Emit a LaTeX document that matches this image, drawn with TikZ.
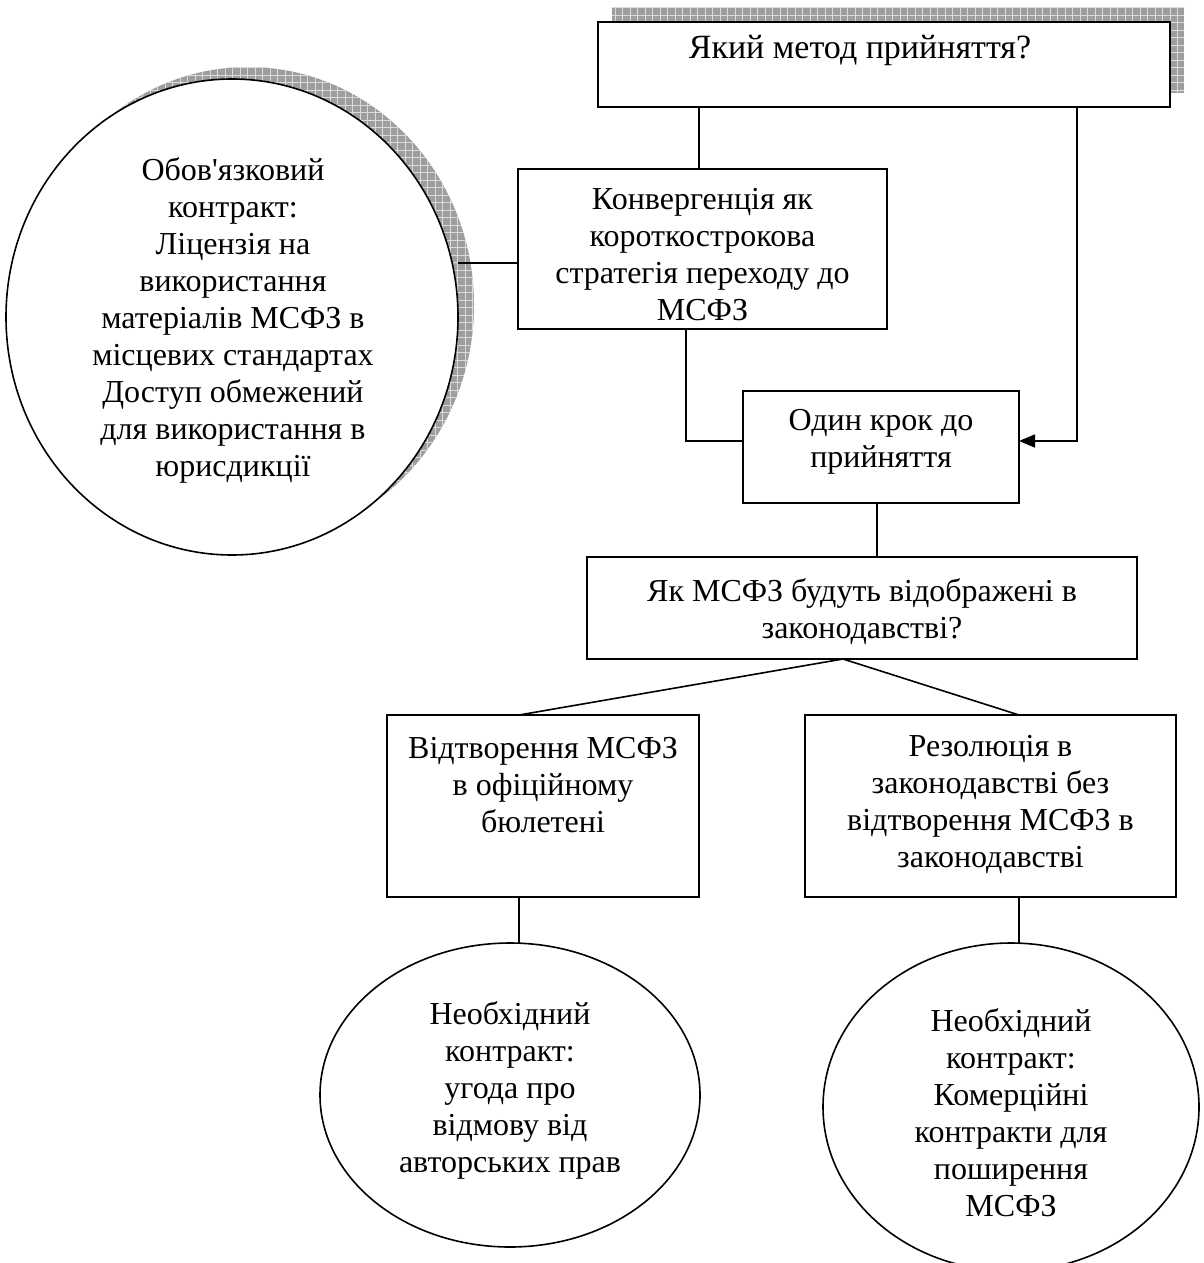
\documentclass[tikz,border=0pt]{standalone}
\usepackage{fontspec}
\setmainfont{Liberation Serif}
\usetikzlibrary{arrows.meta,shapes.geometric}
\pgfdeclarelayer{shadows}
\pgfdeclarelayer{links}
\pgfsetlayers{shadows,links,main}
\begin{document}
\begin{tikzpicture}[x=1pt,y=-1pt,
  every node/.style={inner sep=0pt,outer sep=0pt},
  box/.style={draw,line width=1.6pt,fill=white,rectangle},
  oval/.style={draw,line width=1.6pt,fill=white,ellipse},
  txt/.style={align=center,font=\fontsize{32}{37}\selectfont},
  bigtxt/.style={align=center,font=\fontsize{34}{40}\selectfont},
  link/.style={line width=1.6pt},
  shade/.style={fill=black!38},
  hatch/.style={draw=black!14,line width=0.9pt}]
\useasboundingbox (0,0) rectangle (1204,1263);

% boxes and ovals
\node[box,minimum width=572,minimum height=85] (method) at (884,64.5) {};
\node[oval,minimum width=452,minimum height=476] (license) at (232,317) {};
\node[box,minimum width=369,minimum height=160] (conv) at (702.5,249) {};
\node[box,minimum width=276,minimum height=112] (onestep) at (881,447) {};
\node[box,minimum width=550,minimum height=102] (how) at (862,608) {};
\node[box,minimum width=312,minimum height=182] (gazette) at (543,806) {};
\node[box,minimum width=371,minimum height=182] (resol) at (990.5,806) {};
\node[oval,minimum width=380,minimum height=304] (waiver) at (510,1095) {};
\node[oval,minimum width=376,minimum height=328] (commerce) at (1011,1107) {};

% checkered drop shadows behind the first box and the big oval
\begin{pgfonlayer}{shadows}
  \fill[shade] (612,8) rectangle (1184,93);
  \begin{scope}
    \clip (612,8) rectangle (1184,93);
    \draw[hatch] (0,0) grid[step=7.5pt] (1204,1263);
  \end{scope}
  \fill[shade] (248,305) ellipse [x radius=226,y radius=238];
  \begin{scope}
    \clip (248,305) ellipse [x radius=226,y radius=238];
    \draw[hatch] (0,0) grid[step=7.5pt] (1204,1263);
  \end{scope}
\end{pgfonlayer}

% connector routing points
\coordinate (c1) at (699,0);
\coordinate (c2) at (0,263);
\coordinate (c3) at (686,441);
\coordinate (c4) at (1077,441);
\coordinate (c5) at (843,0);
\coordinate (c6) at (519,0);
\coordinate (c7) at (1019,0);
\coordinate (c8) at (877,0);

% connectors
\begin{pgfonlayer}{links}
  \draw[link] (method.south -| c1) -- (conv.north -| c1);
  \draw[link] (conv.west |- c2) -- (license.east |- c2);
  \draw[link] (conv.south -| c3) -- (c3) -- (onestep.west |- c3);
  \draw[link,-{Triangle[length=16pt,width=13pt]}] (method.south -| c4) -- (c4) -- (onestep.east |- c4);
  \draw[link] (onestep.south -| c8) -- (how.north -| c8);
  \draw[link] (how.south -| c5) -- (gazette.north -| c6);
  \draw[link] (how.south -| c5) -- (resol.north -| c7);
  \draw[link] (gazette.south -| c6) -- (waiver.north -| c6);
  \draw[link] (resol.south -| c7) -- (commerce.north -| c7);
\end{pgfonlayer}

% labels
\node[bigtxt] (methodt) at (860,50) {Який метод прийняття?};
\node[txt] (licenset) at (233,320) {Обов\textquotesingle язковий\\контракт:\\Ліцензія на\\використання\\матеріалів МСФЗ в\\місцевих стандартах\\Доступ обмежений\\для використання в\\юрисдикції};
\node[txt] (convt) at (702.5,255) {Конвергенція як\\короткострокова\\стратегія переходу до\\МСФЗ};
\node[txt] (onestept) at (881,441.5) {Один крок до\\прийняття};
\node[txt] (howt) at (862,611.5) {Як МСФЗ будуть відображені в\\законодавстві?};
\node[txt] (gazettet) at (543,785) {Відтворення МСФЗ\\в офіційному\\бюлетені};
\node[txt] (resolt) at (990.5,804) {Резолюція в\\законодавстві без\\відтворення МСФЗ в\\законодавстві};
\node[txt] (waivert) at (510,1090) {Необхідний\\контракт:\\угода про\\відмову від\\авторських прав};
\node[txt] (commercet) at (1011,1113) {Необхідний\\контракт:\\Комерційні\\контракти для\\поширення\\МСФЗ};
\end{tikzpicture}
\end{document}
